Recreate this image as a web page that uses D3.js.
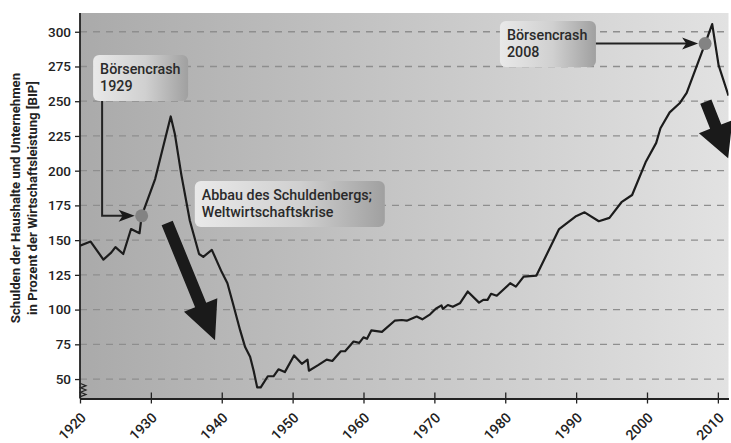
<!DOCTYPE html>
<html>
<head>
<meta charset="utf-8">
<script src="https://cdn.jsdelivr.net/npm/d3@7"></script>
<style>
  body { margin: 0; background: #fff; }
  svg { display: block; font-family: Roboto, "DejaVu Sans", sans-serif; }
</style>
</head>
<body>
<div id="chart"></div>
<script>
// Verschuldung (Haushalte + Unternehmen) in % BIP
const years = [1920, 1921.5, 1923.3, 1924.4, 1925, 1926.1, 1927.2, 1928.4, 1928.7, 1930.6,
  1932.8, 1933.4, 1934.3, 1935.5, 1936.8, 1937.4, 1938.6, 1940, 1940.8, 1941.6,
  1942.6, 1943.3, 1944, 1944.5, 1945, 1945.5, 1946.5, 1947.3, 1948, 1948.9,
  1950.2, 1951.3, 1952.1, 1952.3, 1953.6, 1954.8, 1955.6, 1956.8, 1957.4, 1958.6,
  1959.4, 1960, 1960.5, 1961.1, 1962.6, 1964.4, 1965.4, 1966.1, 1967.5, 1968.3,
  1969.4, 1970.2, 1971, 1971.2, 1971.9, 1972.6, 1973.6, 1974.7, 1976.3, 1976.9,
  1977.5, 1978, 1978.8, 1980.7, 1981.5, 1982.6, 1984.4, 1987.6, 1989.9, 1991.2,
  1993.2, 1994.7, 1996.4, 1997.9, 1999.8, 2001.3, 2001.9, 2003.2, 2004.6, 2005.6,
  2008.2, 2009.2, 2010.1, 2011.5];
const debt = [146, 149, 136, 141, 145, 140, 158, 155, 167.5, 194,
  239, 226, 197, 164, 140, 138, 143, 127, 119, 104,
  85, 73, 66, 56, 44, 44, 52, 52, 57, 55,
  67, 61, 64, 56, 60, 64, 63, 70, 70, 77,
  76, 80, 79, 85, 84, 92, 92.5, 92, 95, 93,
  96.6, 100.6, 103, 100.5, 103.3, 102, 104.5, 113, 105, 107,
  107, 111.4, 110, 119, 116.5, 123.7, 124.5, 158, 167, 170,
  163.6, 166, 177.3, 182.5, 206, 220, 230.5, 242, 248.5, 256,
  291.5, 305.5, 276, 254];

const yTicks = [50, 75, 100, 125, 150, 175, 200, 225, 250, 275, 300];
const xTicks = [1920, 1930, 1940, 1950, 1960, 1970, 1980, 1990, 2000, 2010];
const yTitle = ["Schulden der Haushalte und Unternehmen", "in Prozent der Wirtschaftsleistung [BIP]"];

// Markierte Börsencrashs
const crashYears = [1928.7, 2008.2];
const crashValues = [167.5, 291.5];

// Textkästen: linke obere Ecke in Jahr/Wert
const noteLines = [["Börsencrash", "1929"], ["Abbau des Schuldenbergs;", "Weltwirtschaftskrise"], ["Börsencrash", "2008"]];
const noteYears = [1921.85, 1936.2, 1979.25];
const noteValues = [283.3, 192.6, 307.8];
const noteWidths = [95, 190, 96];

// dicke Pfeile: Start und Spitze in Jahr/Wert
const arrowFrom = [[1932.3, 162.3], [2008.3, 249.7]];
const arrowTo = [[1939.05, 78], [2011.45, 208.9]];

const width = 731, height = 443;
const mLeft = 80, mRight = 728.5, mTop = 13, mBottom = 398.5;

const svg = d3.select("#chart").append("svg")
  .attr("width", width)
  .attr("height", height);

const x = d3.scaleLinear().domain([1920, 2011.5]).range([mLeft, mRight]);
const y = d3.scaleLinear().domain([36, 313.5]).range([mBottom, mTop]);

const defs = svg.append("defs");

const bg = defs.append("linearGradient").attr("id", "bg").attr("x1", 0).attr("x2", 1).attr("y1", 0).attr("y2", 0);
bg.append("stop").attr("offset", 0).attr("stop-color", "#aaaaaa");
bg.append("stop").attr("offset", 1).attr("stop-color", "#e2e2e2");

const boxGrad = defs.append("linearGradient").attr("id", "box").attr("x1", 0).attr("x2", 1).attr("y1", 0).attr("y2", 0);
boxGrad.append("stop").attr("offset", 0).attr("stop-color", "#e9e9e9");
boxGrad.append("stop").attr("offset", 0.55).attr("stop-color", "#d0d0d0");
boxGrad.append("stop").attr("offset", 1).attr("stop-color", "#a0a0a0");

defs.append("clipPath").attr("id", "plot")
  .append("rect").attr("x", mLeft).attr("y", mTop).attr("width", mRight - mLeft).attr("height", mBottom - mTop);

// Hintergrund
svg.append("rect")
  .attr("x", mLeft).attr("y", mTop)
  .attr("width", mRight - mLeft).attr("height", mBottom - mTop)
  .attr("fill", "url(#bg)");

// Gitterlinien
svg.append("g").selectAll("line")
  .data(yTicks)
  .enter()
  .append("line")
  .attr("x1", mLeft).attr("x2", mRight)
  .attr("y1", d => y(d)).attr("y2", d => y(d))
  .attr("stroke", "#8e8e8e")
  .attr("stroke-width", 1.3)
  .attr("stroke-dasharray", "7,6");

// Y-Achse
const yAxis = svg.append("g")
  .attr("transform", "translate(" + mLeft + ",0)")
  .call(d3.axisLeft(y).tickValues(yTicks).tickSize(5).tickPadding(4));
yAxis.select(".domain").remove();
yAxis.selectAll("line").attr("stroke", "#222").attr("stroke-width", 1.3);
yAxis.selectAll("text")
  .attr("font-size", 13.5)
  .attr("font-weight", 500)
  .attr("font-family", "Roboto, sans-serif")
  .attr("fill", "#222");

svg.append("line")
  .attr("x1", mLeft).attr("x2", mLeft)
  .attr("y1", mTop).attr("y2", mBottom)
  .attr("stroke", "#222").attr("stroke-width", 1.8);

// Achsenbruch
const zz = [];
for (let i = 0; i <= 6; i++) zz.push([mLeft + (i % 2 ? 6 : 0.5), y(49) + 3 + i * 2.2]);
svg.append("path")
  .attr("d", d3.line()(zz))
  .attr("fill", "none")
  .attr("stroke", "#222")
  .attr("stroke-width", 1.2);

// X-Achse
const xAxis = svg.append("g")
  .attr("transform", "translate(0," + mBottom + ")")
  .call(d3.axisBottom(x).tickValues(xTicks).tickFormat("").tickSizeInner(5).tickSizeOuter(0));
xAxis.select(".domain").attr("stroke", "#222").attr("stroke-width", 1.8);
xAxis.selectAll("line").attr("stroke", "#222").attr("stroke-width", 1.3).attr("y1", -6);

// schräge Jahreszahlen
svg.append("g").selectAll("g")
  .data(xTicks)
  .enter()
  .append("g")
  .attr("transform", d => "translate(" + (x(d) + 7) + "," + (mBottom + 20) + ") rotate(-45)")
  .append("text")
  .attr("text-anchor", "end")
  .attr("font-size", 14)
  .attr("font-weight", 500)
  .attr("fill", "#222")
  .text(d => d);

// Achsentitel
svg.append("g")
  .attr("transform", "translate(0,198)rotate(-90)")
  .selectAll("text")
  .data(yTitle)
  .enter()
  .append("text")
  .attr("x", 0)
  .attr("y", (d, i) => 20 + i * 17)
  .attr("text-anchor", "middle")
  .attr("font-size", 13.2)
  .attr("font-weight", 700)
  .attr("fill", "#222")
  .text(d => d);

// Datenlinie
svg.append("path")
  .datum(years.map((d, i) => [d, debt[i]]))
  .attr("clip-path", "url(#plot)")
  .attr("fill", "none")
  .attr("stroke", "#1c1c1c")
  .attr("stroke-width", 2.2)
  .attr("stroke-linejoin", "round")
  .attr("d", d3.line().x(d => x(d[0])).y(d => y(d[1])));

// dicke schwarze Pfeile
function bigArrow(x0, y0, x1, y1, shaft, headW, headL) {
  const dx = x1 - x0, dy = y1 - y0, len = Math.hypot(dx, dy);
  const ux = dx / len, uy = dy / len, px = -uy, py = ux;
  const bx = x1 - ux * headL, by = y1 - uy * headL;
  return [
    [x0 + px * shaft / 2, y0 + py * shaft / 2],
    [bx + px * shaft / 2, by + py * shaft / 2],
    [bx + px * headW / 2, by + py * headW / 2],
    [x1, y1],
    [bx - px * headW / 2, by - py * headW / 2],
    [bx - px * shaft / 2, by - py * shaft / 2],
    [x0 - px * shaft / 2, y0 - py * shaft / 2]
  ];
}

svg.append("g").selectAll("polygon")
  .data(arrowFrom)
  .enter()
  .append("polygon")
  .attr("points", (d, i) => bigArrow(x(d[0]), y(d[1]), x(arrowTo[i][0]), y(arrowTo[i][1]), 12, 36, i ? 34 : 38).join(" "))
  .attr("fill", "#1a1a1a");

// Textkästen
const notes = svg.append("g").selectAll("g")
  .data(noteLines)
  .enter()
  .append("g")
  .attr("transform", (d, i) => "translate(" + x(noteYears[i]) + "," + y(noteValues[i]) + ")");

notes.append("rect")
  .attr("width", (d, i) => noteWidths[i])
  .attr("height", 46)
  .attr("rx", 6)
  .attr("fill", "url(#box)");

notes.selectAll("text")
  .data(d => d)
  .enter()
  .append("text")
  .attr("x", 7)
  .attr("y", (d, i) => 19 + i * 17)
  .attr("font-size", 14.3)
  .attr("font-weight", 500)
  .attr("fill", "#2a2a2a")
  .text(d => d);

// Verbindungslinien zu den Crash-Punkten
const c1x = x(noteYears[0]) + 9;
const link1 = [[c1x, y(noteValues[0]) + 46], [c1x, y(crashValues[0])], [x(crashYears[0]) - 7, y(crashValues[0])]];
const box3 = x(noteYears[2]) + noteWidths[2];
const link2 = [[box3, y(crashValues[1])], [x(crashYears[1]) - 7, y(crashValues[1])]];

svg.append("g").selectAll("path")
  .data([link1, link2])
  .enter()
  .append("path")
  .attr("d", d => d3.line()(d.slice(0, -1).concat([[d[d.length - 1][0] - 10, d[d.length - 1][1]]])))
  .attr("fill", "none")
  .attr("stroke", "#222")
  .attr("stroke-width", 2);

svg.append("g").selectAll("polygon")
  .data([link1, link2])
  .enter()
  .append("polygon")
  .attr("points", d => {
    const t = d[d.length - 1];
    return [[t[0], t[1]], [t[0] - 16, t[1] - 6], [t[0] - 12, t[1]], [t[0] - 16, t[1] + 6]].join(" ");
  })
  .attr("fill", "#1a1a1a");

svg.append("g").selectAll("circle")
  .data(crashYears)
  .enter()
  .append("circle")
  .attr("cx", d => x(d))
  .attr("cy", (d, i) => y(crashValues[i]))
  .attr("r", 6.5)
  .attr("fill", "#838383");
</script>
</body>
</html>
